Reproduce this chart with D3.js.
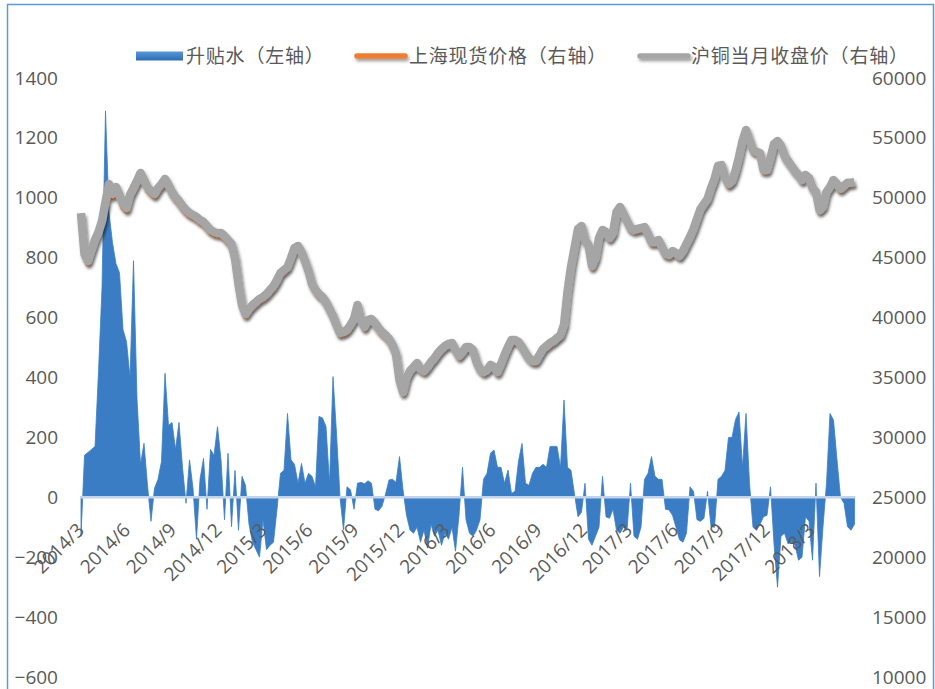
<!DOCTYPE html>
<html>
<head>
<meta charset="utf-8">
<script src="https://cdn.jsdelivr.net/npm/d3@7/dist/d3.min.js"></script>
<style>
  html, body { margin: 0; padding: 0; background: #fff; }
  svg { display: block; }
</style>
</head>
<body>
<svg id="chart" width="935" height="689"></svg>
<script>
// Weekly observations, first week starting 2014-03-03
const firstWeek = new Date(2014, 2, 3);

// 升贴水 (yuan/ton), left axis
const spread = [
  -130,140,150,160,170,420,700,1290,950,850,
  780,750,560,520,400,790,330,110,180,40,
  -80,30,60,120,414,240,250,160,250,100,
  -20,125,30,-140,60,130,-40,160,140,236,
  125,-75,147,-98,90,-110,70,40,-90,-150,
  -175,-200,-75,-175,-160,-150,-40,80,90,280,
  125,110,47,113,47,80,70,35,270,265,
  236,47,403,214,0,-109,35,25,-40,47,
  50,45,55,47,-40,-45,-30,10,58,60,
  50,136,25,-60,-109,-120,-100,-150,-109,-170,
  -90,-130,-110,-160,-120,-140,-100,-180,-60,100,
  -75,-120,-130,-110,-75,60,80,147,158,100,
  100,47,91,13,20,120,180,47,40,80,
  100,100,110,100,170,170,170,100,325,100,
  90,10,-65,-50,47,-140,-160,-130,-100,70,
  -65,-70,-40,-110,-120,-100,-110,47,-130,-140,
  -100,60,80,136,70,60,60,-40,-42,-60,
  -100,-142,-150,-120,35,20,-75,-80,-70,20,
  -98,-100,60,70,90,200,200,260,285,100,
  280,47,-100,-110,-90,-65,-60,35,-155,-300,
  -130,-120,-155,-150,-160,-210,-200,-65,-80,-210,
  47,-265,-98,47,280,258,125,0,-20,-98,
  -110,-90
];

// 上海现货价格 (yuan/ton), right axis
const spotPrice = [
  48480,45120,44520,45400,46250,46900,47800,49350,50850,50050,
  50650,49980,49220,48900,49980,50580,51150,51820,51250,50680,
  50350,50100,50580,50900,51320,50830,50250,49850,49500,49100,
  48760,48500,48350,48180,47930,47760,47430,47100,46930,46840,
  46840,46590,46260,45930,44760,42600,40840,40100,40520,40850,
  41100,41360,41520,41770,42100,42430,42930,43520,43770,44020,
  44770,45600,45780,45280,44530,43690,42610,42110,41770,41520,
  41100,40530,39950,39200,38530,38610,38780,39200,39700,40870,
  39620,39040,39620,39710,39370,38960,38620,38370,38040,37540,
  36790,34620,33630,34790,35380,35710,36040,35540,35380,35710,
  36130,36460,36880,37210,37460,37630,37710,37130,36630,36960,
  37380,37380,37130,36130,35540,35290,35460,35880,35710,35290,
  35960,36710,37380,37960,37960,37800,37380,36880,36460,36210,
  36210,36710,37210,37460,37710,37880,38130,38380,39220,41970,
  44060,45640,47230,47480,46310,45890,44140,44810,46480,47150,
  46980,46480,46890,48650,49060,48480,47900,47310,47150,47230,
  47310,47390,46810,46140,46140,46310,45730,45140,45060,45390,
  45230,44980,45390,45980,46560,47230,48060,48900,49310,49730,
  50650,51400,52490,52570,51570,50980,51230,52070,53240,54570,
  55490,54660,53820,53660,53570,52150,52150,53150,54320,54570,
  54170,53320,52900,52490,52070,51740,51320,51740,51490,50650,
  50320,48810,49080,50320,50730,51320,50980,50580,50830,51080,
  51080,51150
];

// 沪铜当月收盘价 (yuan/ton), right axis
const shfeClose = [
  48730,45310,44730,45640,46480,47150,48070,49650,51150,50320,
  50900,50240,49480,49150,50240,50820,51400,52070,51490,50900,
  50570,50320,50820,51150,51570,51070,50480,50070,49730,49320,
  48980,48730,48570,48400,48150,47980,47650,47320,47150,47060,
  47060,46810,46480,46150,44980,42810,41050,40300,40720,41050,
  41300,41560,41720,41970,42310,42640,43140,43730,43980,44230,
  44980,45810,45980,45480,44730,43890,42810,42310,41970,41720,
  41300,40720,40140,39390,38720,38800,38970,39390,39890,41050,
  39800,39220,39800,39890,39550,39140,38800,38550,38220,37720,
  36970,34790,33790,34960,35550,35880,36210,35710,35550,35880,
  36300,36630,37050,37380,37630,37800,37880,37300,36800,37130,
  37550,37550,37300,36300,35710,35460,35630,36050,35880,35460,
  36130,36880,37550,38130,38130,37970,37550,37050,36630,36380,
  36380,36880,37380,37630,37880,38050,38300,38550,39390,42140,
  44230,45810,47400,47650,46480,46060,44310,44980,46650,47320,
  47150,46650,47060,48820,49230,48650,48070,47480,47320,47400,
  47480,47560,46980,46310,46310,46480,45900,45310,45230,45560,
  45400,45150,45560,46150,46730,47400,48230,49070,49480,49900,
  50820,51570,52660,52740,51740,51150,51400,52240,53410,54740,
  55660,54830,53990,53830,53740,52320,52320,53320,54490,54740,
  54340,53490,53070,52660,52240,51910,51490,51910,51660,50820,
  50490,48980,49250,50490,50900,51490,51150,50750,51000,51250,
  51250,51320
];

const xTickLabels = ["2014/3","2014/6","2014/9","2014/12","2015/3","2015/6","2015/9","2015/12",
  "2016/3","2016/6","2016/9","2016/12","2017/3","2017/6","2017/9","2017/12","2018/3"];
const leftTicks = [-600,-400,-200,0,200,400,600,800,1000,1200,1400];
const rightTicks = [10000,15000,20000,25000,30000,35000,40000,45000,50000,55000,60000];

const seriesNames = ["升贴水（左轴）", "上海现货价格（右轴）", "沪铜当月收盘价（右轴）"];
const seriesColors = ["#3b7dc4", "#ed7d31", "#a5a5a5"];

const dates = spread.map((_, i) => d3.timeDay.offset(firstWeek, 7 * i));
const rows = dates.map((d, i) => ({ date: d, spread: spread[i], spot: spotPrice[i], close: shfeClose[i] }));

const svg = d3.select("#chart");
const font = "'Open Sans', 'Noto Sans', sans-serif";
const cjkFont = "'Noto Sans CJK SC', 'Noto Sans', sans-serif";
const textColor = "#595959";

const defs = svg.append("defs");
const shadow = defs.append("filter").attr("id", "lineShadow")
  .attr("filterUnits", "userSpaceOnUse")
  .attr("x", 0).attr("y", 0).attr("width", 935).attr("height", 689);
shadow.append("feDropShadow").attr("dx", 1.5).attr("dy", 2.5).attr("stdDeviation", 1.8)
  .attr("flood-color", "#000").attr("flood-opacity", 0.38);
const legendGrad = defs.append("linearGradient").attr("id", "legendBlue")
  .attr("x1", 0).attr("y1", 0).attr("x2", 0).attr("y2", 1);
legendGrad.append("stop").attr("offset", "0%").attr("stop-color", "#5a97d8");
legendGrad.append("stop").attr("offset", "100%").attr("stop-color", "#2e6db4");

// chart frame
svg.append("rect").attr("x", 7.5).attr("y", 4.5).attr("width", 926).attr("height", 700)
  .attr("fill", "#fff").attr("stroke", "#5b9bd5").attr("stroke-width", 1.5);

const x = d3.scaleTime().domain([dates[0], dates[dates.length - 1]]).range([81, 854.5]);
const yL = d3.scaleLinear().domain([-600, 1400]).range([677, 78]);
const yR = d3.scaleLinear().domain([10000, 60000]).range([677, 78]);

// spread as a filled area against the zero line
const area = d3.area().x(d => x(d.date)).y0(yL(0)).y1(d => yL(d.spread)).curve(d3.curveLinear);
svg.append("path").datum(rows).attr("d", area).attr("fill", seriesColors[0])
  .attr("stroke", seriesColors[0]).attr("stroke-width", 0.8).attr("stroke-linejoin", "miter");

// zero axis line with date labels
const xAxis = d3.axisBottom(x)
  .tickValues(xTickLabels.map(s => { const [yy, mm] = s.split("/").map(Number); return new Date(yy, mm - 1, 1); }))
  .tickFormat((d, i) => xTickLabels[i]).tickSize(0).tickPadding(0);
const gx = svg.append("g").attr("transform", `translate(0,${yL(0)})`).call(xAxis);
gx.select(".domain").attr("stroke", "#c3d4ea").attr("stroke-width", 2.5)
  .attr("d", `M${x.range()[0] - 1},0H${x.range()[1] + 1}`);
gx.selectAll(".tick text")
  .attr("x", 0).attr("y", 0).attr("dy", 0)
  .attr("transform", "translate(5,34) rotate(-45)")
  .style("text-anchor", "end")
  .attr("fill", textColor).style("font-family", font).style("font-size", "19px");

// price lines
const lineSpot = d3.line().x(d => x(d.date)).y(d => yR(d.spot)).curve(d3.curveLinear);
const lineClose = d3.line().x(d => x(d.date)).y(d => yR(d.close)).curve(d3.curveLinear);
svg.append("path").datum(rows).attr("d", lineSpot).attr("fill", "none")
  .attr("stroke", seriesColors[1]).attr("stroke-width", 5.5).attr("stroke-linejoin", "round")
  .attr("filter", "url(#lineShadow)");
svg.append("path").datum(rows).attr("d", lineClose).attr("fill", "none")
  .attr("stroke", seriesColors[2]).attr("stroke-width", 8.5).attr("stroke-linejoin", "round")
  .attr("filter", "url(#lineShadow)");

// left axis
const gl = svg.append("g").attr("transform", "translate(60,0)")
  .call(d3.axisLeft(yL).tickValues(leftTicks).tickFormat(d3.format("d")).tickSize(0).tickPadding(2));
gl.select(".domain").remove();
gl.selectAll("text").attr("fill", textColor).style("font-family", font).style("font-size", "19px");

// right axis
const gr = svg.append("g").attr("transform", "translate(870,0)")
  .call(d3.axisRight(yR).tickValues(rightTicks).tickFormat(d3.format("d")).tickSize(0).tickPadding(2));
gr.select(".domain").remove();
gr.selectAll("text").attr("fill", textColor).style("font-family", font).style("font-size", "19px");

// legend
const legendY = 56;
const legendItems = [
  { x: 136, textX: 186 },
  { x: 357, textX: 409 },
  { x: 640, textX: 691 }
];
legendItems.forEach((it, i) => {
  if (i === 0) {
    svg.append("rect").attr("x", it.x).attr("y", legendY - 4.5).attr("width", 47).attr("height", 9)
      .attr("fill", "url(#legendBlue)");
  } else {
    svg.append("line").attr("x1", it.x).attr("x2", it.x + 48).attr("y1", legendY).attr("y2", legendY)
      .attr("stroke", seriesColors[i]).attr("stroke-width", 5.5).attr("stroke-linecap", "round")
      .attr("filter", "url(#lineShadow)");
  }
  svg.append("text").attr("x", it.textX).attr("y", legendY).attr("dy", "0.35em")
    .attr("fill", textColor).style("font-family", cjkFont).style("font-size", "19px")
    .style("letter-spacing", "0.8px")
    .text(seriesNames[i]);
});
</script>
</body>
</html>
